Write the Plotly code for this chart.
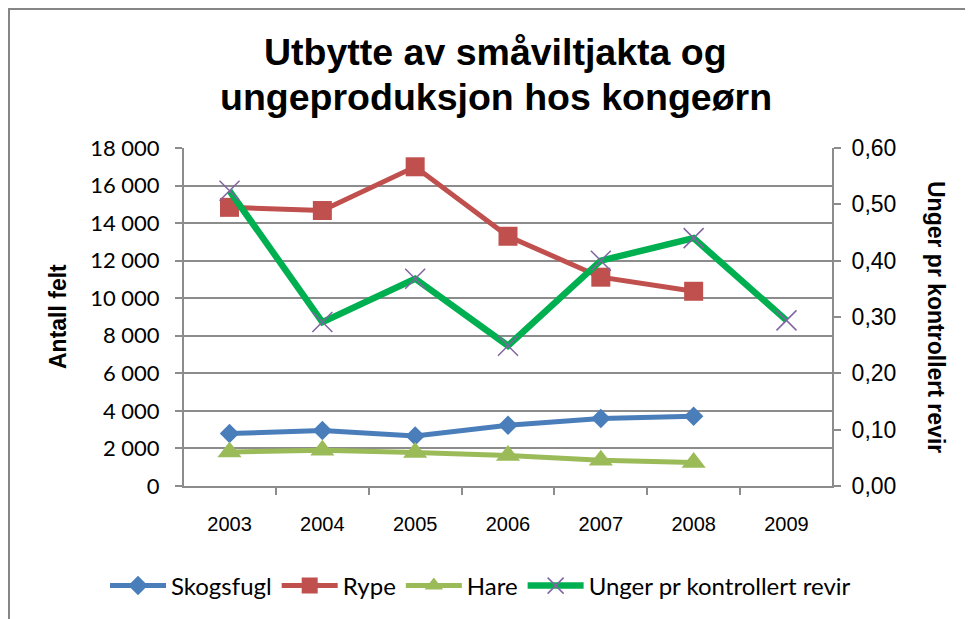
import plotly.graph_objects as go

years = ["2003", "2004", "2005", "2006", "2007", "2008", "2009"]
skogsfugl = [2790, 2960, 2660, 3230, 3590, 3720, None]
rype = [14840, 14670, 17000, 13300, 11120, 10370, None]
hare = [1810, 1900, 1780, 1630, 1370, 1250, None]
unger = [0.524, 0.291, 0.368, 0.249, 0.400, 0.440, 0.294]

left_ticks = [0, 2000, 4000, 6000, 8000, 10000, 12000, 14000, 16000, 18000]
right_ticks = [0.0, 0.1, 0.2, 0.3, 0.4, 0.5, 0.6]

OFF = 8  # page body margin
W, H = 973 - OFF, 619 - OFF
L, R, T, B = 184 - OFF, 832 - OFF, 148 - OFF, 486 - OFF  # plot area in figure pixels

def px_x(p):  # p in window pixels
    return (p - OFF - L) / (R - L)

def px_y(p):
    return (B - (p - OFF)) / (B - T)

GRID = "#8c8c8c"
calib = "Lato, 'Open Sans', sans-serif"
arial = "'Liberation Sans', Arial, sans-serif"

fig = go.Figure()
fig.add_trace(go.Scatter(x=years, y=skogsfugl, name="Skogsfugl", mode="lines+markers",
                         line=dict(color="#4a7ebb", width=5),
                         marker=dict(symbol="diamond", size=15, color="#4a7ebb")))
fig.add_trace(go.Scatter(x=years, y=rype, name="Rype", mode="lines+markers",
                         line=dict(color="#c0504d", width=5),
                         marker=dict(symbol="square", size=19, color="#c0504d")))
fig.add_trace(go.Scatter(x=years, y=hare, name="Hare", mode="lines+markers",
                         line=dict(color="#9bbb59", width=5),
                         marker=dict(symbol="triangle-up", size=21, color="#9bbb59")))
fig.add_trace(go.Scatter(x=years, y=unger, name="Unger pr kontrollert revir", mode="lines+markers",
                         yaxis="y2",
                         line=dict(color="#00b050", width=6.5),
                         marker=dict(symbol="x-thin-open", size=20, color="#8064a2",
                                     line=dict(color="#8064a2", width=1.5))))

fig.update_layout(
    width=W, height=H,
    margin=dict(l=L, r=W - R, t=T, b=H - B, autoexpand=False),
    paper_bgcolor="white", plot_bgcolor="white",
    separators=", ",
    showlegend=True,
    legend=dict(orientation="h", x=px_x(105), xanchor="left",
                y=px_y(586), yanchor="middle",
                font=dict(family=calib, size=24, color="black"), traceorder="normal",
                itemwidth=56, bgcolor="rgba(0,0,0,0)"),
    xaxis=dict(type="category", showline=True, linecolor=GRID, linewidth=2,
               ticks="outside", ticklen=7, tickcolor=GRID, tickwidth=2, tickson="boundaries",
               showgrid=False, zeroline=False,
               tickfont=dict(family=arial, size=20, color="black"), ticklabelstandoff=19),
    yaxis=dict(range=[0, 18000], tickvals=left_ticks, tickformat=",d",
               showline=True, linecolor=GRID, linewidth=2,
               ticks="outside", ticklen=7, tickcolor=GRID, tickwidth=2,
               showgrid=True, gridcolor=GRID, gridwidth=2, zeroline=False,
               tickfont=dict(family=calib, size=22, color="black"), ticklabelstandoff=11),
    yaxis2=dict(range=[0, 0.6], tickvals=right_ticks, tickformat=".2f", overlaying="y", side="right",
                showline=True, linecolor=GRID, linewidth=2,
                ticks="outside", ticklen=7, tickcolor=GRID, tickwidth=2,
                showgrid=False, zeroline=False,
                tickfont=dict(family=arial, size=23, color="black"), ticklabelstandoff=6),
)

annotations = [
    dict(text="<b>Utbytte av småviltjakta og</b>", x=px_x(495), y=px_y(52)),
    dict(text="<b>ungeproduksjon hos kongeørn</b>", x=px_x(496), y=px_y(97)),
]
for a in annotations:
    fig.add_annotation(xref="paper", yref="paper", x=a["x"], y=a["y"], text=a["text"],
                       showarrow=False, xanchor="center", yanchor="middle",
                       font=dict(family=arial, size=37.5, color="black"))

fig.add_annotation(xref="paper", yref="paper", x=px_x(58), y=px_y(317), text="<b>Antall felt</b>",
                   textangle=-90, showarrow=False, xanchor="center", yanchor="middle",
                   font=dict(family=arial, size=23, color="black"))
fig.add_annotation(xref="paper", yref="paper", x=px_x(936), y=px_y(317),
                   text="<b>Unger pr kontrollert revir</b>",
                   textangle=90, showarrow=False, xanchor="center", yanchor="middle",
                   font=dict(family=arial, size=23, color="black"))

# outer chart frame (extends past the visible window)
fig.add_shape(type="rect", xref="paper", yref="paper",
              x0=px_x(9), x1=px_x(1100), y0=px_y(700), y1=px_y(9),
              line=dict(color="#868686", width=2), fillcolor="rgba(0,0,0,0)", layer="below")

fig.write_html("out.html")
